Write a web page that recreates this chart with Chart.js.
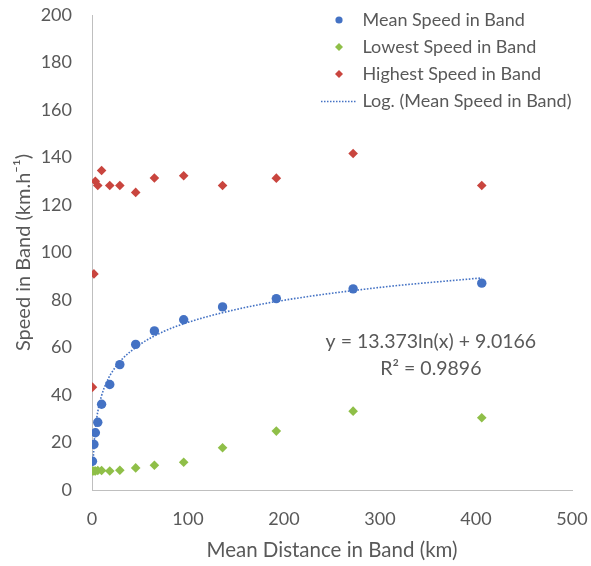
<!DOCTYPE html>
<html>
<head>
<meta charset="utf-8">
<title>Speed in Band vs Mean Distance</title>
<script src="https://cdn.jsdelivr.net/npm/chart.js@4.4.0/dist/chart.umd.min.js"></script>
<style>
    html, body { margin: 0; padding: 0; background: #ffffff; }
    #wrap { width: 591px; height: 566px; position: relative; }
</style>
</head>
<body>
<div id="wrap"><canvas id="speedChart"></canvas></div>
<script>
// --- Data ---
const distances = [0.5, 2, 3.5, 6, 10, 18.5, 29, 45.5, 65, 95.5, 136, 192, 272, 406];
const meanSpeeds = [12.1, 19.2, 24.1, 28.5, 36.1, 44.4, 52.8, 61.3, 67, 71.7, 77.1, 80.6, 84.7, 87.1];
const lowestSpeeds = [8, 8, 8, 8.2, 8.2, 8, 8.3, 9.3, 10.4, 11.7, 17.8, 24.8, 33.2, 30.4];
const highestSpeeds = [43.3, 91, 130, 128.2, 134.5, 128.2, 128.2, 125.3, 131.4, 132.3, 128.2, 131.3, 141.7, 128.2];

// log trendline, sampled along the dotted curve
const trendX = [1, 1.5, 2, 3, 5, 7, 10, 15, 20, 30, 50, 75, 100, 150, 200, 300, 406];
const trendY = [9.0, 14.4, 18.3, 23.7, 30.5, 35.0, 39.8, 45.2, 49.1, 54.5, 61.3, 66.8, 70.6, 76.0, 79.9, 85.3, 89.3];

const xTicks = [0, 100, 200, 300, 400, 500];
const yTicks = [0, 20, 40, 60, 80, 100, 120, 140, 160, 180, 200];

const seriesLabels = ['Mean Speed in Band', 'Lowest Speed in Band', 'Highest Speed in Band', 'Log. (Mean Speed in Band)'];
const equationLines = ['y = 13.373ln(x) + 9.0166', 'R\u00B2 = 0.9896'];

const BLUE = '#4472C4';
const GREEN = '#8FBF48';
const RED = '#C9453E';
const TEXT = '#595959';
const FONT = 'Lato, "Open Sans", sans-serif';

const toPoints = (xs, ys) => xs.map((x, i) => ({ x: x, y: ys[i] }));

// legend markers as small canvases so the gap to the text matches the original
function makeMarker(style, color, radius) {
    const c = document.createElement('canvas');
    c.width = 36; c.height = 12;
    const ctx = c.getContext('2d');
    ctx.fillStyle = color;
    ctx.strokeStyle = color;
    if (style === 'line') {
        ctx.lineWidth = 1.5;
        ctx.setLineDash([1.5, 1.5]);
        ctx.beginPath();
        ctx.moveTo(0, 6.5);
        ctx.lineTo(36, 6.5);
        ctx.stroke();
    } else if (Chart.helpers && Chart.helpers.drawPoint) {
        Chart.helpers.drawPoint(ctx, { pointStyle: style, radius: radius, borderWidth: 0, rotation: 0 }, 18, 6);
    } else {
        ctx.beginPath();
        ctx.arc(18, 6, radius, 0, Math.PI * 2);
        ctx.fill();
    }
    return c;
}

const legendMarkers = [
    makeMarker('circle', BLUE, 3.6),
    makeMarker('rectRot', GREEN, 4),
    makeMarker('rectRot', RED, 4),
    makeMarker('line', BLUE, 0)
];

// put the legend box in the top right corner of the plot
const legendPlacer = {
    id: 'legendPlacer',
    afterLayout(chart) {
        const lg = chart.legend;
        if (!lg) return;
        const area = chart.chartArea;
        lg.left = area.right - 256.5;
        lg.right = lg.left + lg.width;
        lg.top = area.top - 13;
        lg.bottom = lg.top + lg.height;
    }
};

// trendline equation text, anchored to data coordinates
const equationLabel = {
    id: 'equationLabel',
    afterDatasetsDraw(chart) {
        const { ctx, scales } = chart;
        const cx = scales.x.getPixelForValue(353);
        ctx.save();
        ctx.fillStyle = TEXT;
        ctx.font = '19.5px ' + FONT;
        ctx.textAlign = 'center';
        ctx.textBaseline = 'middle';
        ctx.fillText(equationLines[0], cx, scales.y.getPixelForValue(62.3));
        ctx.fillText(equationLines[1], cx, scales.y.getPixelForValue(51));
        ctx.restore();
    }
};

const ctx = document.getElementById('speedChart').getContext('2d');
new Chart(ctx, {
    type: 'scatter',
    data: {
        datasets: [
            {
                label: seriesLabels[0],
                data: toPoints(distances, meanSpeeds),
                backgroundColor: BLUE,
                borderColor: BLUE,
                pointStyle: 'circle',
                pointRadius: 4.7,
                pointBorderWidth: 0,
                order: 1
            },
            {
                label: seriesLabels[1],
                data: toPoints(distances, lowestSpeeds),
                backgroundColor: GREEN,
                borderColor: GREEN,
                pointStyle: 'rectRot',
                pointRadius: 4.8,
                pointBorderWidth: 0,
                order: 2
            },
            {
                label: seriesLabels[2],
                data: toPoints(distances, highestSpeeds),
                backgroundColor: RED,
                borderColor: RED,
                pointStyle: 'rectRot',
                pointRadius: 4.8,
                pointBorderWidth: 0,
                order: 3
            },
            {
                label: seriesLabels[3],
                type: 'line',
                data: toPoints(trendX, trendY),
                borderColor: BLUE,
                backgroundColor: BLUE,
                borderWidth: 1.6,
                borderDash: [1.6, 1.6],
                pointRadius: 0,
                showLine: true,
                fill: false,
                cubicInterpolationMode: 'monotone',
                order: 4
            }
        ]
    },
    options: {
        responsive: true,
        maintainAspectRatio: false,
        animation: false,
        layout: { padding: { top: 15, right: 19, left: 0, bottom: 0 } },
        plugins: {
            legend: {
                position: 'chartArea',
                align: 'start',
                labels: {
                    usePointStyle: true,
                    pointStyleWidth: 29,
                    padding: 9,
                    color: TEXT,
                    font: { family: FONT, size: 18 },
                    generateLabels: (chart) => chart.data.datasets.map((ds, i) => ({
                        text: ds.label,
                        pointStyle: legendMarkers[i],
                        fillStyle: ds.backgroundColor,
                        strokeStyle: ds.borderColor,
                        fontColor: TEXT,
                        lineWidth: 0,
                        hidden: false,
                        datasetIndex: i
                    }))
                }
            },
            tooltip: { enabled: false }
        },
        scales: {
            x: {
                type: 'linear',
                min: 0,
                max: 500,
                afterFit: (scale) => {
                    scale.height = 76;
                    scale.paddingLeft = 0;
                    scale.paddingRight = 0;
                },
                afterBuildTicks: (scale) => { scale.ticks = xTicks.map(v => ({ value: v })); },
                grid: { display: false, drawTicks: false },
                border: { display: true, color: '#BFBFBF', width: 1 },
                ticks: { color: TEXT, padding: 18, font: { family: FONT, size: 18 } },
                title: {
                    display: true,
                    text: 'Mean Distance in Band (km)',
                    color: TEXT,
                    font: { family: FONT, size: 20.5 },
                    padding: { top: 0, bottom: 3 }
                }
            },
            y: {
                type: 'linear',
                min: 0,
                max: 200,
                afterFit: (scale) => {
                    scale.width = 92;
                    scale.paddingTop = 0;
                    scale.paddingBottom = 0;
                },
                afterBuildTicks: (scale) => { scale.ticks = yTicks.map(v => ({ value: v })); },
                grid: { display: false, drawTicks: false },
                border: { display: true, color: '#BFBFBF', width: 1 },
                ticks: { color: TEXT, padding: 20, font: { family: FONT, size: 18 } },
                title: {
                    display: true,
                    text: 'Speed in Band (km.h\u207B\u00B9)',
                    color: TEXT,
                    font: { family: FONT, size: 20 },
                    padding: { top: 12, bottom: 0 }
                }
            }
        }
    },
    plugins: [legendPlacer, equationLabel]
});
</script>
</body>
</html>
